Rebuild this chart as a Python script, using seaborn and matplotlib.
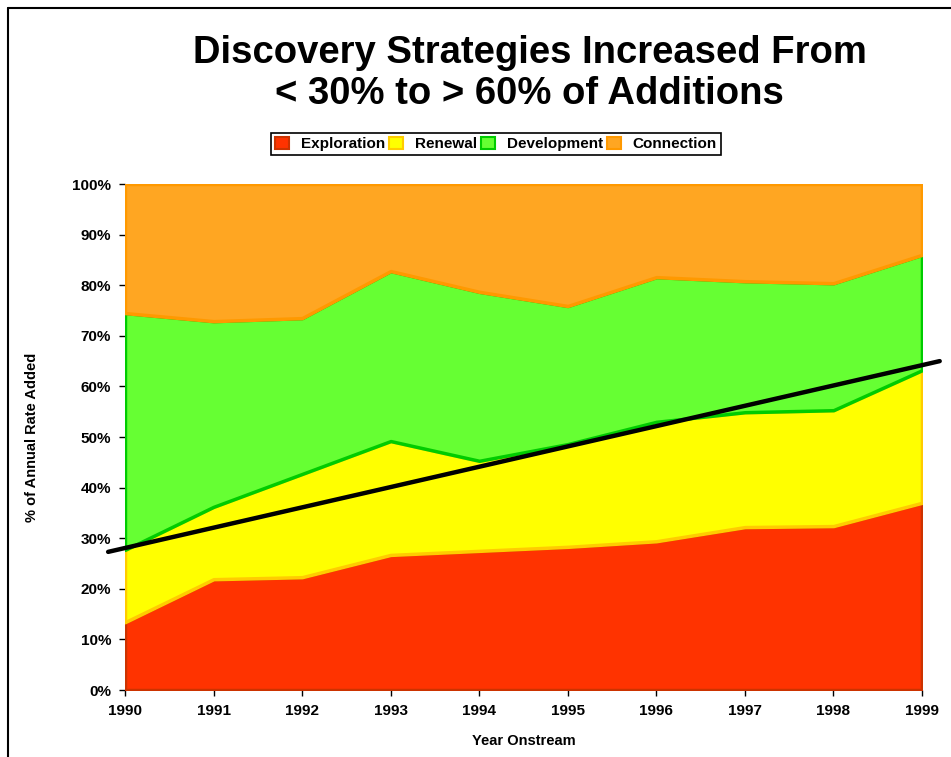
import numpy as np
import pandas as pd
import seaborn as sns
import matplotlib.pyplot as plt
from matplotlib.patches import Patch
from matplotlib.lines import Line2D

years = [1990, 1991, 1992, 1993, 1994, 1995, 1996, 1997, 1998, 1999]
# shares in % of annual rate added (stacked)
exploration = [13.4, 21.9, 22.3, 26.7, 27.5, 28.3, 29.4, 32.2, 32.4, 37.0]
renewal = [14.3, 14.3, 20.4, 22.5, 17.8, 20.3, 23.6, 22.7, 22.9, 26.2]
development = [46.8, 36.7, 30.8, 33.6, 33.4, 27.3, 28.6, 25.9, 25.1, 22.8]
connection = [25.5, 27.1, 26.5, 17.2, 21.3, 24.1, 18.4, 19.2, 19.6, 14.0]
series_names = ["Exploration", "Renewal", "Development", "Connection"]

trend_x = [1989.81, 1999.2]
trend_y = [27.3, 65.0]

fills = ["#FF3300", "#FFFF00", "#66FF33", "#FFA622"]
edges = ["#CC3300", "#FFCC00", "#00CC00", "#FF9900"]

df = pd.DataFrame({"year": years, "Exploration": exploration, "Renewal": renewal,
                   "Development": development, "Connection": connection})

sns.set_theme(style="white")
plt.rcParams['font.family'] = ['Liberation Sans', 'DejaVu Sans']
plt.rcParams.update({"text.color": "black", "axes.labelcolor": "black",
                     "xtick.color": "black", "ytick.color": "black"})

fig = plt.figure(figsize=(9.51, 7.57), dpi=100)
ax = fig.add_axes([0.1314, 0.0885, 0.8381, 0.6684])

polys = ax.stackplot(df["year"], [df[n] for n in series_names], colors=fills)
for p, ec in zip(polys, edges):
    p.set_edgecolor(ec)
    p.set_linewidth(2.5)

ax.plot(trend_x, trend_y, color="black", lw=3.2, solid_capstyle="round", clip_on=False, zorder=5)

ax.set_xlim(1990, 1999)
ax.set_ylim(0, 100)
ax.set_xticks(years)
ax.set_xticklabels([str(y) for y in years], fontweight="bold", fontsize=11)
ax.set_yticks(np.arange(0, 101, 10))
ax.set_yticklabels([f"{v}%" for v in range(0, 101, 10)], fontweight="bold", fontsize=11)
ax.tick_params(axis="both", direction="out", length=4, width=1, color="black", pad=6,
               bottom=True, left=True)
for s in ax.spines.values():
    s.set_visible(False)

ax.set_xlabel("Year Onstream", fontweight="bold", fontsize=10.5)
ax.set_ylabel("% of Annual Rate Added", fontweight="bold", fontsize=10.5)
ax.xaxis.set_label_coords(0.5, -0.087)
ax.yaxis.set_label_coords(-0.108, 0.5)

fig.text(0.557, 0.903, "Discovery Strategies Increased From\n< 30% to > 60% of Additions",
         ha="center", va="center", fontsize=27.5, fontweight="bold", linespacing=1.2)

handles = [Patch(facecolor=f, edgecolor=e, linewidth=1.5) for f, e in zip(fills, edges)]
leg = fig.legend(handles, series_names, loc="center", bbox_to_anchor=(0.5216, 0.8098), ncol=4,
                 frameon=True, fancybox=False, edgecolor="black", framealpha=1,
                 prop={"weight": "bold", "size": 11}, handlelength=0.9, handleheight=0.9,
                 handletextpad=0.8, columnspacing=0.25, borderpad=0.25, borderaxespad=0)
leg.get_frame().set_linewidth(1.2)

# page frame (left and top rules)
fig.add_artist(Line2D([0.0085, 0.0085], [0.0, 0.9894], color="black", lw=1.5))
fig.add_artist(Line2D([0.0085, 1.0], [0.9894, 0.9894], color="black", lw=1.5))

fig.savefig("out.png", dpi=100)
